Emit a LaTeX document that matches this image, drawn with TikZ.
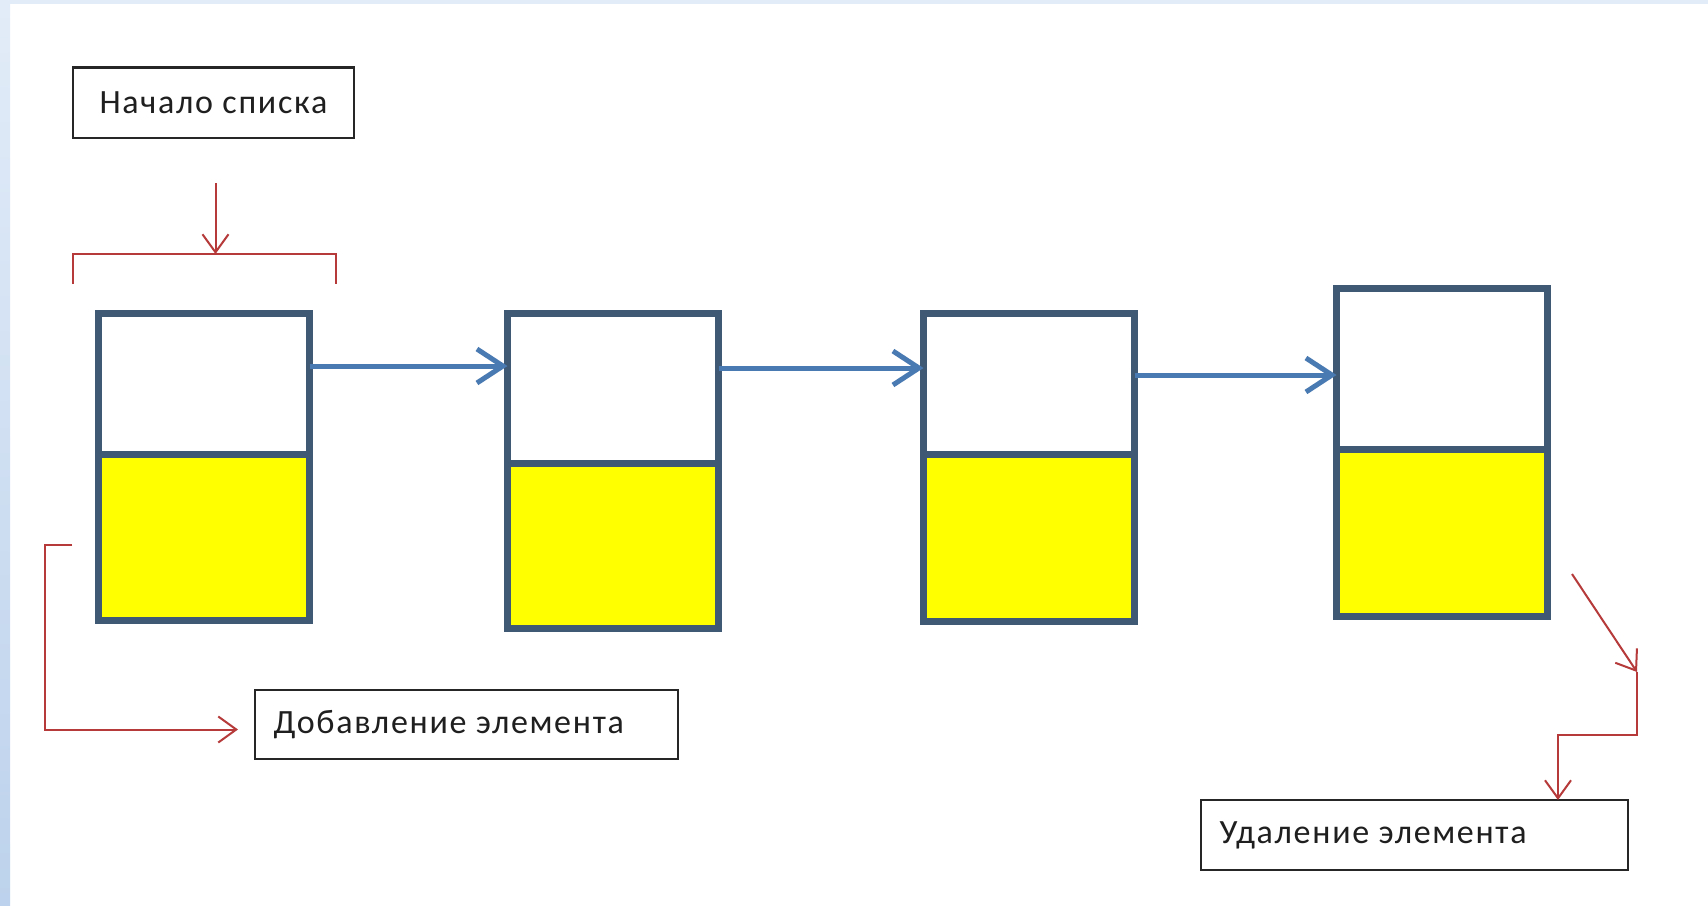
\documentclass[tikz,border=0pt]{standalone}
\usepackage{fontspec}
\setmainfont{Carlito}[LetterSpace=5]
\usetikzlibrary{arrows.meta,calc}

\definecolor{cellline}{HTML}{3F5874}
\definecolor{cellfill}{HTML}{FFFF00}
\definecolor{linkblue}{HTML}{4A7AB2}
\definecolor{notered}{HTML}{B63A3A}
\definecolor{edgeblue}{HTML}{BDD2EC}
\definecolor{edgeblue2}{HTML}{E2ECF8}

\tikzset{
  cellbox/.style={draw=cellline, line width=7, anchor=north west,
    minimum width=211, inner sep=0, outer sep=0},
  ptrcell/.style={cellbox, fill=white},
  datcell/.style={cellbox, fill=cellfill},
  label box/.style={draw=black!85, line width=2.2, fill=white, inner sep=0,
    outer sep=0, anchor=north west},
  caption/.style={font=\fontsize{34}{40}\selectfont, text=black!88},
  link/.style={draw=linkblue, line width=5,
    -{Straight Barb[length=26, width=34, line width=5]}},
  note/.style={draw=notered, line width=2},
  notearrow/.style={note, -{Straight Barb[length=18, width=26, line width=2]}},
}

% one list element: pointer part on top, yellow data part below
\newcommand\listcell[5]{%
  \node[ptrcell, minimum height=#4-#3] (#1top) at (#2,#3) {};
  \node[datcell, minimum height=#5-#4] (#1dat) at (#2,#4) {};
  \draw[cellline, line width=7] (#1top.south west) -- (#1top.south east);
}

\begin{document}
\begin{tikzpicture}[x=1pt, y=-1pt]
  \useasboundingbox (0,0) rectangle (1708,905);
  \fill[white] (0,0) rectangle (1708,905);
  % slide frame: pale band on top, blue strip on the left
  \fill[edgeblue2] (0,0) rectangle (1708,4);
  \shade[top color=edgeblue2, bottom color=edgeblue] (0,0) rectangle (10,905);

  % list elements
  \listcell{e1}{98.5}{313.5}{454}{620.5}
  \listcell{e2}{507.5}{313.5}{463}{628.5}
  \listcell{e3}{923.5}{313.5}{454}{621.5}
  \listcell{e4}{1336.5}{288.5}{449}{616.5}

  % links between elements
  \draw[link] (e1top.east |- 0,366) -- (e2top.west |- 0,366);
  \draw[link] (e2top.east |- 0,368) -- (e3top.west |- 0,368);
  \draw[link] (e3top.east |- 0,375) -- (e4top.west |- 0,375);

  % captions
  \node[label box, minimum width=281, minimum height=70.5] (head) at (73,67.5) {};
  \node[caption] at (head.center) {Начало списка};

  \node[label box, minimum width=423, minimum height=69] (addbox) at (255,690) {};
  \node[caption, anchor=west] at ([xshift=15pt]addbox.west) {Добавление элемента};

  \node[label box, minimum width=427, minimum height=70] (delbox) at (1201,800) {};
  \node[caption, anchor=west] at ([xshift=15pt]delbox.west) {Удаление элемента};

  % head of the list: arrow onto a bracket over the first element
  \coordinate (headfrom) at (215.5,183);
  \coordinate (bracetop) at (215.5,254);
  \draw[note] (73,284) -- (73,254) -- (336,254) -- (336,284);
  \draw[notearrow] (headfrom) -- (bracetop);

  % insertion route
  \coordinate (addfrom) at (72,545);
  \draw[notearrow] (addfrom) -- (45,545) |- ([xshift=-17pt,yshift=-5pt]addbox.west);

  % removal route
  \coordinate (delfrom) at (1572,574);
  \coordinate (delbend) at (1637,672);
  \draw[notearrow] (delfrom) -- (delbend);
  \draw[notearrow] (delbend) -- (1637,735) -- (1558,735) -- (delbox.north -| 1558,0);
\end{tikzpicture}
\end{document}
